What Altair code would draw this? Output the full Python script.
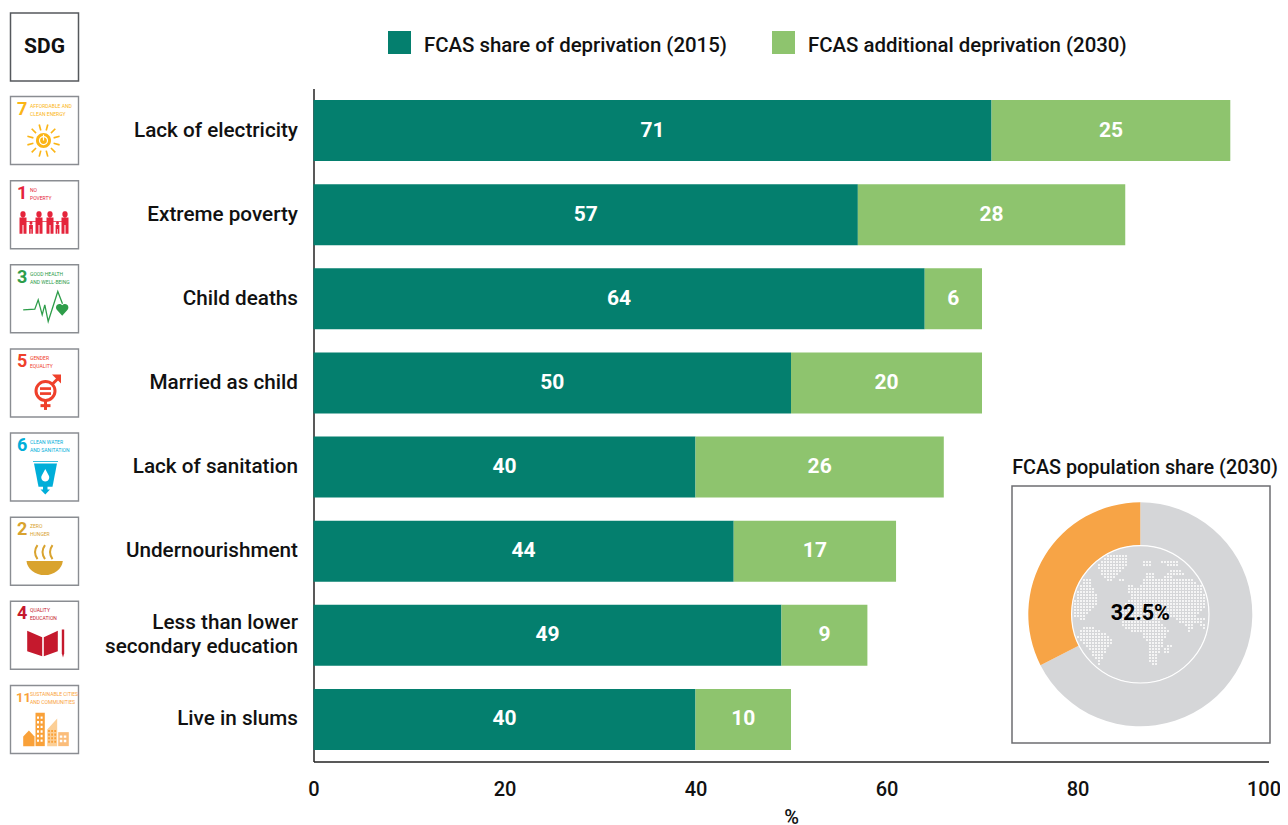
import math
import altair as alt
import pandas as pd

FONT = "Roboto"
LEFT, TOP = 313.5, 88.5      # page position of the plot origin
W, H = 955, 673

CATEGORIES = ["Lack of electricity", "Extreme poverty", "Child deaths", "Married as child",
              "Lack of sanitation", "Undernourishment", "Less than lower secondary education",
              "Live in slums"]
SHARE_2015 = [71, 57, 64, 50, 40, 44, 49, 40]
ADDITIONAL_2030 = [25, 28, 6, 20, 26, 17, 9, 10]
SERIES = ["FCAS share of deprivation (2015)", "FCAS additional deprivation (2030)"]
SERIES_COLORS = ["#047F6E", "#8EC46E"]
X_TICKS = [0, 20, 40, 60, 80, 100]

SDG_NUMBERS = ["7", "1", "3", "5", "6", "2", "4", "11"]
SDG_LINE1 = ["AFFORDABLE AND", "NO", "GOOD HEALTH", "GENDER", "CLEAN WATER", "ZERO", "QUALITY", "SUSTAINABLE CITIES"]
SDG_LINE2 = ["CLEAN ENERGY", "POVERTY", "AND WELL-BEING", "EQUALITY", "AND SANITATION", "HUNGER", "EDUCATION", "AND COMMUNITIES"]
SDG_COLORS = ["#FBB516", "#E5243B", "#2E9D4A", "#EF402B", "#00AED9", "#D9A32E", "#C5192D", "#F9A139"]

POP_SHARE = 32.5
POP_LABELS = ["Other", "FCAS"]
POP_COLORS = ["#D5D6D8", "#F7A446"]

# land mask of the stippled globe: row -> column runs
GLOBE = {
    1: [(11, 18)], 2: [(10, 18)], 3: [(10, 18), (24, 26), (30, 35)], 4: [(9, 18), (24, 26), (32, 35)],
    5: [(9, 17)], 6: [(10, 16), (33, 36)], 7: [(10, 15), (25, 27), (32, 37)], 8: [(11, 14), (25, 27), (31, 33)],
    9: [(4, 6), (12, 13), (16, 17), (24, 40)], 10: [(4, 6), (24, 41)], 11: [(3, 6), (19, 20), (23, 43)],
    12: [(3, 7), (19, 44)], 13: [(2, 7), (19, 45)], 14: [(2, 8), (20, 45)], 15: [(1, 8), (20, 45)],
    16: [(1, 8), (19, 46)], 17: [(0, 8), (18, 46)], 18: [(0, 7), (18, 45)], 19: [(0, 6), (17, 43)],
    20: [(0, 5), (16, 42)], 21: [(1, 4), (16, 41)], 22: [(3, 4), (16, 30), (35, 44)], 23: [(17, 29), (36, 43)],
    24: [(17, 30), (38, 40), (43, 45)], 25: [(4, 7), (18, 31), (39, 40), (44, 45)], 26: [(3, 9), (20, 32), (39, 39), (45, 45)],
    27: [(3, 11), (24, 31)], 28: [(2, 12), (24, 31)], 29: [(3, 13), (25, 30)], 30: [(4, 13), (26, 30)],
    31: [(5, 12), (26, 30), (32, 33)], 32: [(6, 11), (26, 29), (31, 32)], 33: [(7, 11), (26, 29), (31, 32)],
    34: [(7, 10), (26, 28)], 35: [(8, 10), (26, 28)], 36: [(9, 9), (26, 28)], 37: [(9, 9), (27, 28)],
}


def px(v):
    return v - LEFT


def py(v):
    return v - TOP


def poly(points):
    return "M" + " L".join(f"{x:.1f} {y:.1f}" for x, y in points) + " Z"


def line(points):
    return "M" + " L".join(f"{x:.1f} {y:.1f}" for x, y in points)


def rect(x0, y0, x1, y1):
    return poly([(x0, y0), (x1, y0), (x1, y1), (x0, y1)])


def circle(cx, cy, r, ccw=False):
    s = 0 if ccw else 1
    return f"M{cx - r:.1f} {cy:.1f} A{r} {r} 0 1 {s} {cx + r:.1f} {cy:.1f} A{r} {r} 0 1 {s} {cx - r:.1f} {cy:.1f} Z"


def person(cx, top, h):
    r = h * 0.12
    w = h * 0.16
    return (circle(cx, top + r, r) + rect(cx - w, top + 2.2 * r, cx + w, top + h * 0.6)
            + rect(cx - w, top + h * 0.6, cx - w * 0.15, top + h) + rect(cx + w * 0.15, top + h * 0.6, cx + w, top + h))


# ---- SDG pictograms, drawn as path symbols relative to each box's centre
sun_rays = ""
for k in range(12):
    a = math.radians(30 * k + 15)
    c, s = math.cos(a), math.sin(a)
    x0, y0, w = -1, 10, 0.8
    sun_rays += poly([(x0 + 10.5 * c - w * s, y0 + 10.5 * s + w * c), (x0 + 16.7 * c - w * s, y0 + 16.7 * s + w * c),
                      (x0 + 16.7 * c + w * s, y0 + 16.7 * s - w * c), (x0 + 10.5 * c + w * s, y0 + 10.5 * s - w * c)])

tower_windows = "".join(rect(-7.5 + 3.6 * i, -3 + 4.6 * j, -5.5 + 3.6 * i, -0.6 + 4.6 * j) for i in range(2) for j in range(6))
mid_windows = "".join(rect(3.6 + 3.1 * i, 10.5 + 3.6 * j, 5.4 + 3.1 * i, 12.6 + 3.6 * j) for i in range(3) for j in range(4))
low_windows = "".join(rect(15.3 + 4 * i, 16 + 4.4 * j, 17.8 + 4 * i, 18.4 + 4.4 * j) for i in range(2) for j in range(2))

c7, c1, c3, c5, c6, c2, c4, c11 = SDG_COLORS
# (row, color, path, stroke width; 0 means filled)
ICONS = [
    (0, c7, sun_rays, 0), (0, c7, circle(-1, 10, 7.5), 0), (0, "#FFFFFF", circle(-1, 10, 4), 1.2),
    (0, "#FFFFFF", rect(-1.6, 4, -0.4, 10), 0),
    (1, c1, "".join(person(x, -3, 22) for x in (-21.5, -5.5, 5.5, 20.5)), 0),
    (1, c1, "".join(person(x, 7, 12) for x in (-13.5, 13)), 0),
    (1, c1, rect(-21, 6.5, 20, 7.3), 0),
    (2, c3, line([(-21.3, 11), (-9.7, 10.3), (-6.3, 1), (-2.3, 16), (0.3, 6), (3.7, 22.7), (13.3, -7.3), (18, 5)]), 1.3),
    (2, c3, "M17.7 17 L12.3 11 A3.2 3.2 0 0 1 17.7 6.5 A3.2 3.2 0 0 1 23.1 11 Z", 0),
    (3, c5, circle(1, 8, 9.5), 3), (3, c5, line([(1, 18), (1, 27)]), 3), (3, c5, line([(-4, 22.7), (6, 22.7)]), 3),
    (3, c5, line([(8, 1), (14, -5)]), 3), (3, c5, poly([(7.5, -8.5), (16.5, -8.5), (16.5, 0.5)]), 0),
    (3, c5, rect(-4.5, 4.3, 6.5, 7), 0), (3, c5, rect(-4.5, 9.3, 6.5, 12), 0),
    (4, c6, rect(-11.5, -6, 13.5, -5.2), 0),
    (4, c6, poly([(-10.5, -3.5), (12.5, -3.5), (8, 19.7), (-6, 19.7)]), 0),
    (4, "#FFFFFF", "M0.8 2 L4.5 9 A4 4 0 1 1 -3 9 Z", 0),
    (4, c6, poly([(-1.5, 19), (3, 19), (3, 22.5), (5.5, 22.5), (0.8, 27.5), (-4, 22.5), (-1.5, 22.5)]), 0),
    (5, c2, "M-18 9.7 L18.3 9.7 A18.2 15.3 0 0 1 -18 9.7 Z", 0),
    (5, c2, "".join(f"M{x} -6 Q{x - 5} 1 {x} 8" for x in (-7, 0.5, 8)), 2),
    (6, c4, poly([(-17.3, -4.5), (-2.3, 2), (-2.3, 21), (-17.3, 16)]), 0),
    (6, c4, poly([(-0.7, 2), (13.3, -4.5), (13.3, 16), (-0.7, 21)]), 0),
    (6, c4, poly([(17.3, -5.7), (19.7, -5.7), (19.7, 18), (18.5, 22.3), (17.3, 18)]), 0),
    (7, c11, poly([(-21.3, 26.7), (-21.3, 17), (-15.6, 11), (-10, 17), (-10, 26.7)]), 0),
    (7, c11, rect(-9, -6.7, 0.3, 26.7), 0), (7, "#FFFFFF", tower_windows, 0),
    (7, "#FCCF96", poly([(2.7, 26.7), (2.7, 10), (12.7, -1), (12.7, 26.7)]), 0), (7, c11, mid_windows, 0),
    (7, "#FBBD7A", rect(13.7, 12.7, 24.3, 26.7), 0), (7, "#FFFFFF", low_windows, 0),
]

# ---- data tables
bars = []
for cat, a, b in zip(CATEGORIES, SHARE_2015, ADDITIONAL_2030):
    bars.append({"cat": cat, "series": SERIES[0], "start": 0, "end": a, "mid": a / 2, "value": a})
    bars.append({"cat": cat, "series": SERIES[1], "start": a, "end": a + b, "mid": a + b / 2, "value": b})
bars = pd.DataFrame(bars)
rows = pd.DataFrame({"cat": CATEGORIES, "num": SDG_NUMBERS, "l1": SDG_LINE1, "l2": SDG_LINE2, "color": SDG_COLORS})
one = pd.DataFrame({"k": [0]})

y_scale = alt.Scale(domain=CATEGORIES, paddingInner=0.275, paddingOuter=0.1375)
y_axis = alt.Axis(title=None, ticks=False, grid=False, labelFontSize=20.7, labelFont=FONT, labelFontWeight=500,
                  labelColor="#111111", labelPadding=16, labelLimit=300, domainColor="#222222", domainWidth=1.5,
                  labelLineHeight=24,
                  labelOffset=alt.expr("datum.label == 'Less than lower secondary education' ? -12 : 0"),
                  labelExpr="datum.label == 'Less than lower secondary education' ? "
                            "['Less than lower', 'secondary education'] : datum.label")
y_enc = alt.Y("cat:N", scale=y_scale, sort=CATEGORIES, axis=y_axis)
BOX_X = px(44.5)

bar_layer = alt.Chart(bars).mark_bar().encode(
    x=alt.X("start:Q", scale=alt.Scale(domain=[0, 100], nice=False),
            axis=alt.Axis(values=X_TICKS, title="%", grid=False, ticks=False, labelFontSize=20, labelFont=FONT,
                          labelFontWeight=500, labelColor="#111111", labelPadding=18, labelFlush=False,
                          labelOffset=alt.expr("datum.value == 100 ? -5 : 0"),
                          domainColor="#222222", domainWidth=1.5, titleFont=FONT, titleFontSize=20, titleFontWeight=500,
                          titlePadding=8, titleColor="#111111", format="d")),
    x2="end:Q",
    y=y_enc,
    color=alt.Color("series:N", scale=alt.Scale(domain=SERIES, range=SERIES_COLORS), legend=None),
)
bar_text = alt.Chart(bars).mark_text(color="white", font=FONT, fontSize=21, fontWeight="bold").encode(
    x=alt.X("mid:Q", scale=alt.Scale(domain=[0, 100], nice=False)), y=y_enc,
    text="value:Q")

layers = [bar_layer, bar_text]

# series key
LEGEND_SYMBOL_X = [399.5, 783.5]
LEGEND_LABEL_X = [424, 808]
for name, color, sx, lx in zip(SERIES, SERIES_COLORS, LEGEND_SYMBOL_X, LEGEND_LABEL_X):
    layers.append(alt.Chart(one).mark_point(shape="square", size=23 * 23, filled=True, fill=color, strokeWidth=0, opacity=1)
                  .encode(x=alt.value(px(sx)), y=alt.value(py(42.5))))
    layers.append(alt.Chart(one).mark_text(text=name, align="left", font=FONT, fontSize=20.4, fontWeight=500, color="#111111")
                  .encode(x=alt.value(px(lx)), y=alt.value(py(45.5))))

# SDG header box and row boxes
layers.append(alt.Chart(one).mark_point(shape="square", size=68 * 68, filled=False, color="#55585C", strokeWidth=1.5, opacity=1)
              .encode(x=alt.value(BOX_X), y=alt.value(py(47))))
layers.append(alt.Chart(one).mark_text(text="SDG", font=FONT, fontSize=21, fontWeight="bold", color="#111111")
              .encode(x=alt.value(BOX_X), y=alt.value(py(47))))
layers.append(alt.Chart(rows).mark_point(shape="square", size=68 * 68, filled=False, color="#8A8D92", strokeWidth=1.4, opacity=1)
              .encode(x=alt.value(BOX_X), y=y_enc))
single = rows[rows["num"].str.len() == 1]
double = rows[rows["num"].str.len() == 2]
layers.append(alt.Chart(single).mark_text(align="left", font=FONT, fontSize=18, fontWeight="bold", dy=-21)
              .encode(x=alt.value(px(17)), y=y_enc, text="num:N", color=alt.Color("color:N", scale=None, legend=None)))
layers.append(alt.Chart(double).mark_text(align="left", font=FONT, fontSize=13, fontWeight="bold", dy=-21)
              .encode(x=alt.value(px(16)), y=y_enc, text="num:N", color=alt.Color("color:N", scale=None, legend=None)))
layers.append(alt.Chart(rows).mark_text(align="left", font=FONT, fontSize=5, dy=-25)
              .encode(x=alt.value(px(30)), y=y_enc, text="l1:N", color=alt.Color("color:N", scale=None, legend=None)))
layers.append(alt.Chart(rows).mark_text(align="left", font=FONT, fontSize=5, dy=-17)
              .encode(x=alt.value(px(30)), y=y_enc, text="l2:N", color=alt.Color("color:N", scale=None, legend=None)))
for row, color, path, sw in ICONS:
    d = pd.DataFrame({"cat": [CATEGORIES[row]]})
    if sw:
        m = alt.Chart(d).mark_point(shape=path, size=4, filled=False, stroke=color, strokeWidth=sw, opacity=1)
    else:
        m = alt.Chart(d).mark_point(shape=path, size=4, filled=True, fill=color, strokeWidth=0, opacity=1)
    layers.append(m.encode(x=alt.value(BOX_X), y=y_enc))

# inset: population share donut
CX, CY = 1140.3, 614.3
layers.append(alt.Chart(one).mark_rect(fill="white", stroke="#6D6E71", strokeWidth=1.5)
              .encode(x=alt.value(px(1012)), x2=alt.value(px(1270)), y=alt.value(py(486)), y2=alt.value(py(743))))
layers.append(alt.Chart(one).mark_text(text="FCAS population share (2030)", font=FONT, fontSize=19.8, fontWeight=500, color="#111111")
              .encode(x=alt.value(px(1145)), y=alt.value(py(468))))
donut = pd.DataFrame({"name": POP_LABELS, "share": [100 - POP_SHARE, POP_SHARE], "ord": [0, 1], "color": POP_COLORS})
layers.append(alt.Chart(donut).mark_arc(innerRadius=68.7, outerRadius=112).encode(
    x=alt.value(px(CX)), y=alt.value(py(CY)),
    theta=alt.Theta("share:Q", stack=True, scale=alt.Scale(domain=[0, 100], range=[0, 2 * math.pi])),
    order=alt.Order("ord:Q"), color=alt.Color("color:N", scale=None, legend=None)))
layers.append(alt.Chart(one).mark_point(shape=circle(0, 0, 68.7), size=4, filled=True, fill=POP_COLORS[0], stroke="white",
                                        strokeWidth=1.2, opacity=1)
              .encode(x=alt.value(px(CX)), y=alt.value(py(CY))))
globe = ""
for r, runs in GLOBE.items():
    for a, b in runs:
        for col in range(a, b + 1):
            x, y = 1072 + 3 * col - CX, 553 + 3 * r - CY
            if math.hypot(x, y) < 67:
                globe += rect(x - 1, y - 1, x + 1, y + 1)
layers.append(alt.Chart(one).mark_point(shape=globe, size=4, filled=True, fill="#FFFFFF", strokeWidth=0, opacity=0.75)
              .encode(x=alt.value(px(CX)), y=alt.value(py(CY))))
layers.append(alt.Chart(one).mark_text(text=f"{POP_SHARE}%", font=FONT, fontSize=21.5, fontWeight="bold", color="#000000")
              .encode(x=alt.value(px(CX)), y=alt.value(py(CY))))

chart = alt.layer(*layers).resolve_scale(color="independent").properties(
    width=W, height=H,
    autosize=alt.AutoSizeParams(type="none"),
    padding={"left": LEFT - 8, "top": TOP - 8, "right": 11.5, "bottom": 63.5},
).configure_view(stroke=None)

chart.save("out.html", embed_options={"renderer": "svg", "actions": False})
